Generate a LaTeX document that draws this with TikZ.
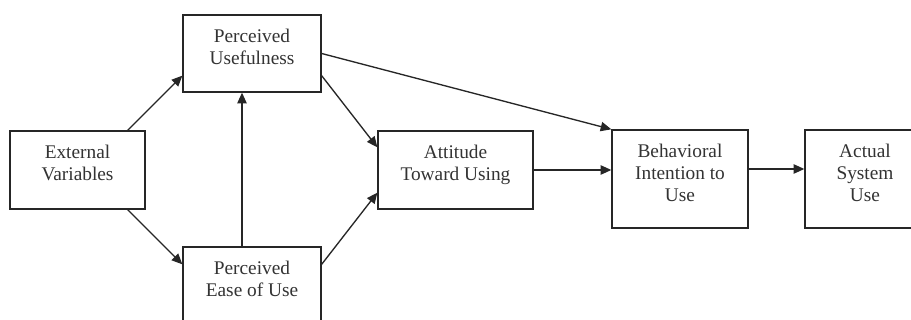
\documentclass[tikz,border=0pt]{standalone}
\usepackage{fontspec}
\setmainfont{Liberation Serif}
\usetikzlibrary{calc,arrows.meta}
\begin{document}
\begin{tikzpicture}[x=0.75pt,y=-0.75pt,
  box/.style={draw=black!85,line width=1pt,rectangle,inner sep=0pt},
  boxtext/.style={anchor=north,inner sep=0pt,yshift=-10.5pt,align=center,text=black!80,
    font=\fontsize{14.5}{16.5}\selectfont},
  conn/.style={draw=black!85,line width=1pt,-{Triangle[length=8pt,width=7pt]}}]
\useasboundingbox (0,0) rectangle (911,320);
\clip (0,0) rectangle (911,320);
\fill[white] (0,0) rectangle (911,320);
\node[box,minimum width=101.25pt,minimum height=58.5pt,
  label={[boxtext]north:External\\Variables}] (ev) at (77.5,170) {};
\node[box,minimum width=103.5pt,minimum height=57.75pt,
  label={[boxtext]north:Perceived\\Usefulness}] (pu) at (252,53.5) {};
\node[box,minimum width=103.5pt,minimum height=64.5pt,
  label={[boxtext]north:Perceived\\Ease of Use}] (peou) at (252,290) {};
\node[box,minimum width=116.25pt,minimum height=58.5pt,
  label={[boxtext]north:Attitude\\Toward Using}] (att) at (455.5,170) {};
\node[box,minimum width=102pt,minimum height=73.5pt,
  label={[boxtext]north:Behavioral\\Intention to\\Use}] (bi) at (680,179) {};
\node[box,minimum width=90pt,minimum height=73.5pt,
  label={[boxtext]north:Actual\\System\\Use}] (asu) at (865,179) {};
\draw[conn] ($(ev.north east)+(-18,0)$) -- ($(pu.south west)+(0,-17)$);
\draw[conn] ($(ev.south east)+(-18,0)$) -- ($(peou.north west)+(0,18)$);
\draw[conn] ($(peou.north)+(-10,0)$) -- ($(pu.south)+(-10,0)$);
\draw[conn] ($(pu.south east)+(0,-17)$) -- ($(att.north west)+(0,17)$);
\draw[conn] ($(peou.north east)+(0,18)$) -- ($(att.south west)+(0,-17)$);
\draw[conn] (pu.east) -- (bi.north west);
\draw[conn] (att.east) -- (att.east -| bi.west);
\coordinate (bio) at ($(bi.east)+(0,-10)$);
\draw[conn] (bio) -- (bio -| asu.west);
\end{tikzpicture}
\end{document}
